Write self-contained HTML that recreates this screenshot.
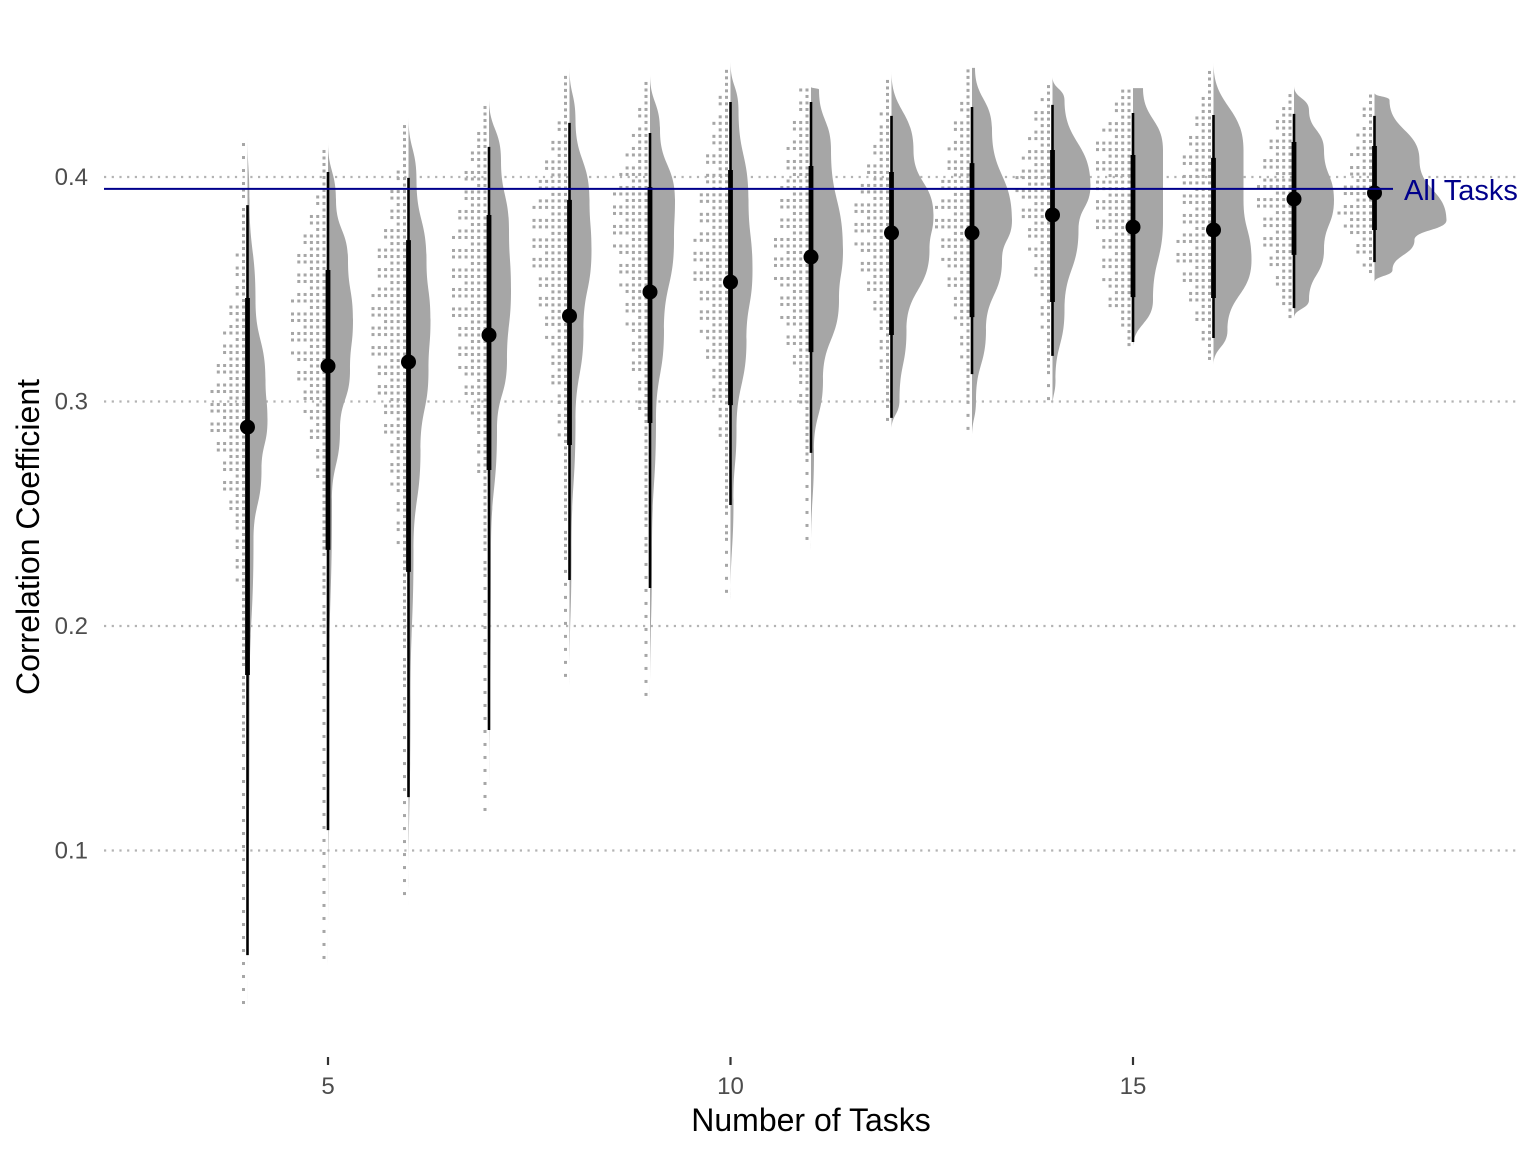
<!DOCTYPE html>
<html><head><meta charset="utf-8"><style>
html,body{margin:0;padding:0;background:#fff;}
svg{display:block;font-family:"Liberation Sans",Arial,sans-serif;}
</style></head><body>
<svg id="chart" width="1536" height="1152" viewBox="0 0 1536 1152">
<g id="grid"></g>
<g id="plot"></g>
<g id="axes"></g>
<text x="28" y="537" transform="rotate(-90 28 537)" text-anchor="middle" dominant-baseline="central" font-size="32" fill="#000">Correlation Coefficient</text>
<text x="811" y="1131" text-anchor="middle" font-size="32" fill="#000">Number of Tasks</text>
</svg>
<script>
const groups=[4,5,6,7,8,9,10,11,12,13,14,15,16,17,18];
const pointVals=[0.2886,0.3158,0.3176,0.3296,0.3381,0.3488,0.3532,0.3644,0.3751,0.3751,0.3831,0.3777,0.3764,0.3902,0.3929];
const thickLo=[0.1782,0.2339,0.2241,0.2695,0.2806,0.2904,0.2984,0.3220,0.3296,0.3376,0.3443,0.3465,0.3461,0.3653,0.3764];
const thickHi=[0.3461,0.3586,0.3719,0.3831,0.3898,0.3955,0.4031,0.4049,0.4022,0.4062,0.4120,0.4098,0.4085,0.4156,0.4138];
const thinLo=[0.0534,0.1091,0.1238,0.1537,0.2205,0.2169,0.2539,0.2771,0.2927,0.3122,0.3203,0.3265,0.3283,0.3416,0.3621];
const thinHi=[0.3875,0.4022,0.3996,0.4134,0.4241,0.4196,0.4334,0.4334,0.4272,0.4312,0.4321,0.4285,0.4276,0.4281,0.4272];
const densY=[
[0.4187,0.3898,0.3452,0.3096,0.2918,0.2695,0.2383,0.1670,0.0290],
[0.4156,0.3898,0.3630,0.3363,0.3140,0.2873,0.2561,0.1670,0.0490],
[0.4267,0.3987,0.3630,0.3363,0.3140,0.2784,0.2339,0.1670,0.0757],
[0.4352,0.4076,0.3764,0.3496,0.3184,0.2873,0.2339,0.1158],
[0.4486,0.4254,0.3898,0.3675,0.3318,0.2918,0.2339,0.1737],
[0.4459,0.4209,0.3898,0.3719,0.3318,0.2918,0.2339,0.1670],
[0.4513,0.4298,0.3898,0.3586,0.3274,0.2873,0.2561,0.2116],
[0.4401,0.4390,0.4120,0.3675,0.3452,0.3096,0.2784,0.2339],
[0.4468,0.4120,0.3831,0.3675,0.3318,0.3007,0.2873],
[0.4486,0.4209,0.3808,0.3630,0.3318,0.3007,0.2837],
[0.4445,0.4343,0.3964,0.3764,0.3408,0.3096,0.2971],
[0.4396,0.4120,0.3808,0.3452,0.3238],
[0.4508,0.4120,0.3898,0.3630,0.3318,0.3163],
[0.4405,0.4298,0.4120,0.3898,0.3675,0.3452,0.3372],
[0.4374,0.4343,0.4076,0.3808,0.3719,0.3586,0.3532]];
const densW=[
[0,0.2,0.8,1.8,2.0,1.4,0.6,0.2,0],
[0,0.8,2.0,2.5,2.2,1.2,0.4,0.1,0],
[0,0.8,1.8,2.2,2.0,1.2,0.5,0.2,0],
[0,1.2,2.0,2.2,1.8,0.8,0.2,0],
[0,0.6,2.0,2.2,1.4,0.6,0.2,0],
[0,1.0,2.5,2.4,1.4,0.6,0.2,0],
[0,0.8,1.8,2.2,1.6,0.6,0.3,0],
[0,0.8,2.0,3.2,2.8,1.2,0.3,0],
[0,2.2,4.2,3.8,1.5,0.8,0],
[0.3,2.0,4.0,3.0,1.4,0.4,0],
[0,1.2,3.8,2.6,1.2,0.3,0],
[1.0,3.0,3.0,2.0,0],
[0,3.0,3.0,3.8,1.4,0],
[0,1.5,3.0,4.0,3.0,1.5,0],
[0,1.5,4.5,7.2,4.0,1.8,0]];
const yTicks=[0.1,0.2,0.3,0.4];
const xTicks=[5,10,15];
const allTasks=0.3947;

const NS="http://www.w3.org/2000/svg";
const X=v=>328+(v-5)*80.5;
const Y=v=>177+(0.4-v)*2245;
function mk(tag,attrs,parent){const e=document.createElementNS(NS,tag);for(const k in attrs)e.setAttribute(k,attrs[k]);parent.appendChild(e);return e;}
const grid=document.getElementById('grid'),plot=document.getElementById('plot'),axes=document.getElementById('axes');
yTicks.forEach(t=>{
  const l=mk('line',{x1:104,x2:1520,y1:Y(t),y2:Y(t),stroke:'#b3b3b3','stroke-width':2.2,'stroke-dasharray':'2.2 5.5'},grid);
  
  
  const tx=mk('text',{x:88,y:Y(t)+8,'text-anchor':'end','font-size':24,fill:'#4d4d4d'},axes);
  tx.textContent=t.toFixed(1);
  
  
});
xTicks.forEach(t=>{
  const l=mk('line',{x1:X(t),x2:X(t),y1:1057,y2:1065,stroke:'#333','stroke-width':2.2},axes);
  
  
  const tx=mk('text',{x:X(t),y:1094,'text-anchor':'middle','font-size':24,fill:'#4d4d4d'},axes);
  tx.textContent=t;
  
  
});
function interp(ys,ws,v){
  for(let i=0;i<ys.length-1;i++){const a=ys[i],b=ys[i+1];if(v<=a&&v>=b){const f=(a-v)/(a-b);return ws[i]+(ws[i+1]-ws[i])*f;}}
  return 0;
}
groups.forEach((g,i)=>{
  const cx=X(g);
  const ys=densY[i],ws=densW[i];
  const wmax=Math.max(...ws);
  const gg=mk('g',{},plot);
  
  
  const top=Y(ys[0]),bot=Y(ys[ys.length-1]);
  let r=0;
  for(let py=top+3;py<bot;py+=6.5){
    const w=interp(ys,ws,0.4-(py-177)/2245);
    let n=Math.round(w/wmax*6*((r%3===1)?0.6:1));
    r++;
    if(n<1&&w>0&&r%2===0)n=1;
    for(let k=0;k<n;k++){
      const d=mk('rect',{x:cx-5.5-k*6.3,y:py-1.5,width:3,height:3,fill:'#a6a6a6'},gg);
      
      
    }
  }
  let dpath='M'+cx+','+Y(ys[0]);
  const pts=[];
  for(let j=0;j<ys.length;j++)pts.push([cx+ws[j]*10,Y(ys[j])]);
  dpath+=' L'+pts[0][0]+','+pts[0][1];
  for(let j=1;j<pts.length;j++){
    const p0=pts[j-1],p1=pts[j],my=(p0[1]+p1[1])/2;
    dpath+=' C'+p0[0]+','+my+' '+p1[0]+','+my+' '+p1[0]+','+p1[1];
  }
  dpath+=' L'+cx+','+Y(ys[ys.length-1])+' Z';
  const vp=mk('path',{d:dpath,fill:'#a6a6a6'},gg);
  
  
  const l1=mk('line',{x1:cx,x2:cx,y1:Y(thinHi[i]),y2:Y(thinLo[i]),stroke:'#000','stroke-width':2.6},gg);
  
  
  const l2=mk('line',{x1:cx,x2:cx,y1:Y(thickHi[i]),y2:Y(thickLo[i]),stroke:'#000','stroke-width':4.8},gg);
  
  
  const c=mk('circle',{cx:cx,cy:Y(pointVals[i]),r:7.5,fill:'#000'},gg);
  
  
});
const al=mk('line',{x1:104,x2:1393,y1:Y(allTasks),y2:Y(allTasks),stroke:'#00008b','stroke-width':2},plot);


const at=mk('text',{x:1404,y:Y(allTasks)+11,'font-size':29,fill:'#00008b'},plot);
at.textContent='All Tasks';


</script>
</body></html>
